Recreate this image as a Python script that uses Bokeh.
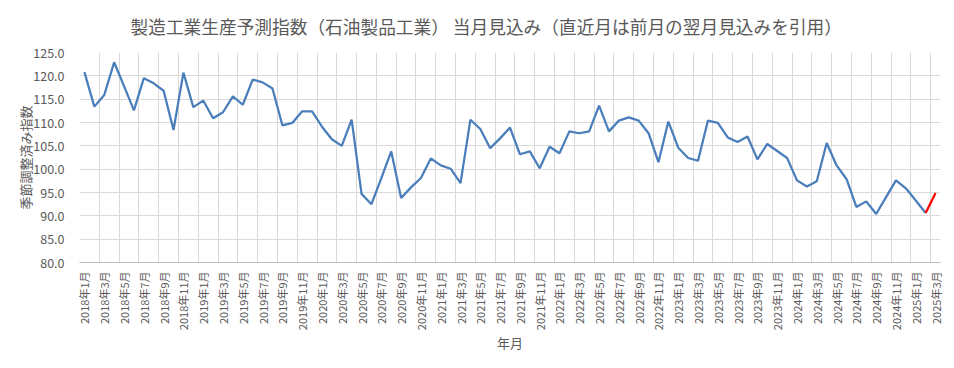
from bokeh.plotting import figure
from bokeh.models import FixedTicker, NumeralTickFormatter, Title, ColumnDataSource
from bokeh.embed import file_html
from bokeh.resources import INLINE
import math

# ---- data ----
years = [2018, 2019, 2020, 2021, 2022, 2023, 2024, 2025]
months_per_year = [12, 12, 12, 12, 12, 12, 12, 3]
values = [
    120.8, 113.4, 115.9, 122.9, 117.8, 112.6, 119.5, 118.4, 116.8, 108.4, 120.7, 113.3,  # 2018
    114.7, 110.9, 112.2, 115.6, 113.8, 119.2, 118.6, 117.3, 109.4, 109.9, 112.4, 112.4,  # 2019
    109.1, 106.4, 105.0, 110.6, 94.7, 92.5, 98.1, 103.8, 93.8, 96.1, 98.1, 102.3,        # 2020
    100.8, 100.1, 97.0, 110.6, 108.6, 104.5, 106.6, 108.9, 103.2, 103.8, 100.2, 104.8,   # 2021
    103.4, 108.1, 107.7, 108.1, 113.6, 108.1, 110.4, 111.1, 110.4, 107.7, 101.5, 110.2,  # 2022
    104.6, 102.4, 101.8, 110.4, 109.9, 106.8, 105.8, 107.0, 102.1, 105.4, 103.9, 102.4,  # 2023
    97.6, 96.3, 97.4, 105.6, 100.8, 97.9, 91.9, 93.1, 90.4, 94.0, 97.6, 95.9,            # 2024
    93.3, 90.6, 94.9,                                                                     # 2025
]
y_ticks = [80, 85, 90, 95, 100, 105, 110, 115, 120, 125]

labels = []
for y, n in zip(years, months_per_year):
    for m in range(1, n + 1):
        labels.append(f"{y}年{m}月")
x = list(range(len(values)))
n = len(values)

title_text = "製造工業生産予測指数（石油製品工業） 当月見込み（直近月は前月の翌月見込みを引用）"
font = "Noto Sans CJK JP"
gray = "#595959"

p = figure(frame_width=861, frame_height=210,
           min_border_left=79, min_border_right=14,
           min_border_top=51, min_border_bottom=97,
           x_range=(-0.5, n - 0.5), y_range=(80, 125),
           output_backend="svg", toolbar_location=None)
p.outline_line_color = None

t = Title(text=title_text, align="left", offset=51, standoff=24,
          vertical_align="top",
          text_font=font, text_font_size="17.7px", text_font_style="normal",
          text_color=gray)
p.add_layout(t, "above")

main_src = ColumnDataSource(dict(x=x[:-1], y=values[:-1]))
p.line("x", "y", source=main_src, line_color="#4a7ebb", line_width=2.25)
last_src = ColumnDataSource(dict(x=x[-2:], y=values[-2:]))
p.line("x", "y", source=last_src, line_color="#ff0000", line_width=2.25)

# x axis
xt = list(range(0, n, 2))
p.xaxis.ticker = FixedTicker(ticks=xt)
p.xaxis.major_label_overrides = {i: labels[i] for i in xt}
p.xaxis.major_label_orientation = math.pi / 2
p.xaxis.major_tick_line_color = None
p.xaxis.minor_tick_line_color = None
p.xaxis.axis_line_color = "#bfbfbf"
p.xaxis.major_label_text_font = font
p.xaxis.major_label_text_font_size = "11px"
p.xaxis.major_label_text_color = gray
p.xaxis.major_label_standoff = 3
p.xaxis.axis_label = "年月"
p.xaxis.axis_label_text_font = font
p.xaxis.axis_label_text_font_size = "13px"
p.xaxis.axis_label_text_font_style = "normal"
p.xaxis.axis_label_text_color = gray
p.xaxis.axis_label_standoff = 0

p.xgrid.ticker = FixedTicker(ticks=[i - 0.5 for i in range(0, n, 2)])
p.xgrid.grid_line_color = "#d9d9d9"

# y axis
p.yaxis.ticker = FixedTicker(ticks=y_ticks)
p.yaxis.formatter = NumeralTickFormatter(format="0.0")
p.yaxis.major_tick_line_color = None
p.yaxis.minor_tick_line_color = None
p.yaxis.axis_line_color = None
p.yaxis.major_label_text_font = font
p.yaxis.major_label_text_font_size = "12.5px"
p.yaxis.major_label_text_color = gray
p.yaxis.major_label_standoff = 9
p.yaxis.axis_label = "季節調整済み指数"
p.yaxis.axis_label_text_font = font
p.yaxis.axis_label_text_font_size = "13px"
p.yaxis.axis_label_text_font_style = "normal"
p.yaxis.axis_label_text_color = gray
p.yaxis.axis_label_standoff = -5
p.ygrid.grid_line_color = "#d9d9d9"

open("out.html", "w").write(file_html(p, INLINE))
